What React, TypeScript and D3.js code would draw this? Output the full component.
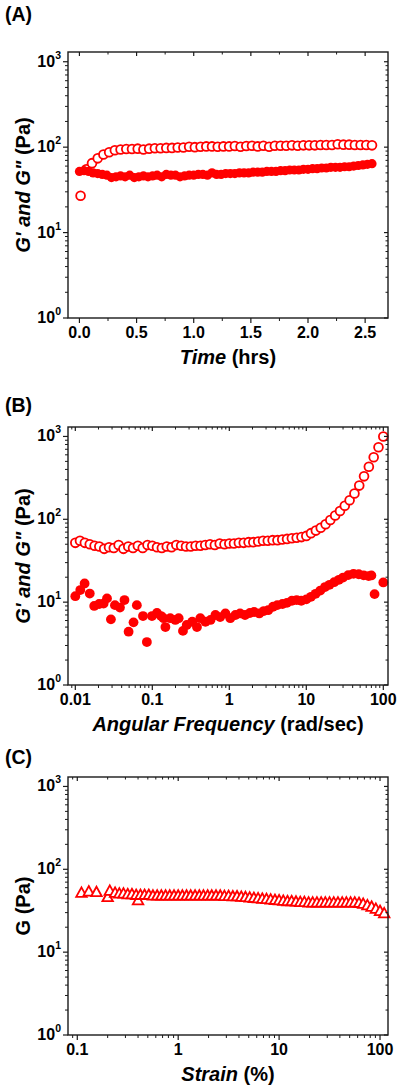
import React from 'react';
import * as d3 from 'd3';

const RED = '#ff0000';
const INK = '#1a1a1a';
const FONT = "'Liberation Sans', Arial, Helvetica, sans-serif";

// ---------- Panel A : time sweep ----------
const timeOpenA = [0.01, 0.06, 0.11, 0.16, 0.21, 0.26, 0.31, 0.36, 0.41, 0.46, 0.51, 0.56, 0.61, 0.66, 0.71, 0.76, 0.81, 0.86, 0.91, 0.96, 1.01, 1.06, 1.11, 1.16, 1.21, 1.26, 1.31, 1.36, 1.41, 1.46, 1.51, 1.56, 1.61, 1.66, 1.71, 1.76, 1.81, 1.86, 1.91, 1.96, 2.01, 2.06, 2.11, 2.16, 2.21, 2.26, 2.31, 2.36, 2.41, 2.46, 2.51, 2.56];
const gOpenA = [27, 55, 65, 74, 82, 87, 92, 94, 95, 95, 96, 94, 96, 97, 97, 98, 98, 99, 99, 101, 100, 101, 102, 102, 101, 102, 102, 103, 101, 103, 104, 102, 104, 101, 104, 104, 104, 105, 104, 105, 105, 105, 106, 106, 106, 108, 107, 107, 106, 106, 106, 105];
const timeFilledA = [0, 0.04, 0.08, 0.12, 0.16, 0.2, 0.24, 0.28, 0.32, 0.36, 0.4, 0.44, 0.48, 0.52, 0.56, 0.6, 0.64, 0.68, 0.72, 0.76, 0.8, 0.84, 0.88, 0.92, 0.96, 1.0, 1.04, 1.08, 1.12, 1.16, 1.2, 1.24, 1.28, 1.32, 1.36, 1.4, 1.44, 1.48, 1.52, 1.56, 1.6, 1.64, 1.68, 1.72, 1.76, 1.8, 1.84, 1.88, 1.92, 1.96, 2.0, 2.04, 2.08, 2.12, 2.16, 2.2, 2.24, 2.28, 2.32, 2.36, 2.4, 2.44, 2.48, 2.52, 2.56];
const gFilledA = [52, 53, 52, 50, 49, 48, 47, 44, 45, 46, 45, 47, 44, 45, 46, 45, 46, 47, 45, 48, 47, 47, 45, 46, 47, 47, 48, 48, 47, 50, 48, 48, 49, 49, 49, 50, 50, 50, 51, 51, 51, 52, 52, 52, 53, 53, 54, 54, 54, 55, 55, 56, 56, 57, 57, 58, 58, 58, 59, 59, 60, 61, 62, 63, 64];
const timeTicks = [0, 0.5, 1, 1.5, 2, 2.5];
const timeTickLabels = ['0.0', '0.5', '1.0', '1.5', '2.0', '2.5'];
const timeMinor = [0.25, 0.75, 1.25, 1.75, 2.25];

// ---------- Panel B : frequency sweep ----------
const freqOpenB = [0.01, 0.0115, 0.0133, 0.0154, 0.0178, 0.0205, 0.0237, 0.0274, 0.0316, 0.0365, 0.0422, 0.0487, 0.0562, 0.0649, 0.075, 0.0866, 0.1, 0.115, 0.133, 0.154, 0.178, 0.205, 0.237, 0.274, 0.316, 0.365, 0.422, 0.487, 0.562, 0.649, 0.75, 0.866, 1, 1.15, 1.33, 1.54, 1.78, 2.05, 2.37, 2.74, 3.16, 3.65, 4.22, 4.87, 5.62, 6.49, 7.5, 8.66, 10, 11.5, 13.3, 15.4, 17.8, 20.5, 23.7, 27.4, 31.6, 36.5, 42.2, 48.7, 56.2, 64.9, 75, 86.6, 100];
const gOpenB = [52, 55, 52, 50, 48, 47, 44, 46, 45, 49, 44, 47, 45, 48, 45, 49, 48, 46, 45, 47, 46, 49, 48, 47, 47, 48, 48, 49, 50, 49, 51, 50, 51, 51, 52, 52, 53, 53, 54, 55, 55, 56, 56, 57, 58, 59, 60, 61, 63, 68, 73, 79, 87, 98, 111, 126, 146, 170, 205, 255, 330, 430, 560, 740, 1000];
const freqFilledB = [0.01, 0.0116, 0.0132, 0.0154, 0.0176, 0.0204, 0.0233, 0.0258, 0.029, 0.0327, 0.038, 0.0435, 0.0492, 0.057, 0.063, 0.0757, 0.085, 0.099, 0.115, 0.13, 0.14, 0.148, 0.171, 0.199, 0.22, 0.25, 0.28, 0.33, 0.38, 0.42, 0.49, 0.57, 0.66, 0.76, 0.89, 1.03, 1.2, 1.38, 1.6, 1.85, 2.1, 2.45, 2.8, 3.2, 3.7, 4.2, 4.9, 5.6, 6.5, 7.5, 8.6, 10, 11.5, 13.2, 15.2, 17.5, 20, 23, 26.5, 30, 35, 41, 48, 55.6, 64.5, 70, 77, 100];
const gFilledB = [11.8, 14, 16.8, 12.7, 9.0, 9.5, 9.6, 11.1, 6.2, 9.2, 8.6, 10.6, 4.4, 5.7, 9.2, 6.8, 3.3, 6.8, 7.4, 6.8, 6.4, 5.0, 6.4, 6.1, 6.4, 4.5, 5.3, 5.8, 5.0, 6.4, 5.8, 6.1, 7.0, 6.6, 7.3, 6.4, 7.0, 7.3, 7.0, 7.4, 7.6, 7.3, 7.8, 8.0, 8.8, 9.2, 9.5, 9.8, 10.4, 10.6, 10.4, 10.8, 11.6, 12.6, 13.8, 15.2, 16.2, 17.4, 18.6, 19.8, 21.2, 22, 21.7, 21.1, 20.6, 21, 12.5, 17.3];
const freqTicks = [0.01, 0.1, 1, 10, 100];
const freqTickLabels = ['0.01', '0.1', '1', '10', '100'];

// ---------- Panel C : strain sweep ----------
const strainC = [0.11, 0.13, 0.155, 0.2, 0.21, 0.237, 0.261, 0.287, 0.316, 0.348, 0.383, 0.4, 0.422, 0.464, 0.511, 0.562, 0.619, 0.681, 0.75, 0.825, 0.909, 1.0, 1.1, 1.21, 1.33, 1.47, 1.62, 1.78, 1.96, 2.15, 2.37, 2.61, 2.87, 3.16, 3.48, 3.83, 4.22, 4.64, 5.11, 5.62, 6.19, 6.81, 7.5, 8.25, 9.09, 10, 11, 12.1, 13.3, 14.7, 16.2, 17.8, 19.6, 21.5, 23.7, 26.1, 28.7, 31.6, 34.8, 38.3, 42.2, 46.4, 51.1, 56.2, 61.9, 68.1, 75, 82.5, 90.9, 100, 110];
const gStrainC = [53, 55, 54, 47, 56, 53, 52, 52, 51, 51, 50, 43, 50, 50, 50, 49, 49, 49, 49, 49, 49, 49, 49, 49, 49, 49, 49, 49, 49, 49, 49, 49, 48.5, 48.5, 48, 48, 47.5, 47, 46.5, 46, 45.5, 45, 44.5, 44, 43.5, 43, 42.5, 42, 42, 41.5, 41, 41, 40.5, 40.5, 40.5, 40.5, 40.5, 40.5, 40.5, 40.5, 40.5, 40.5, 40.5, 40.5, 40, 39, 37.5, 36, 34, 32, 30];
const strainTicks = [0.1, 1, 10, 100];
const strainTickLabels = ['0.1', '1', '10', '100'];

// ---------- shared y axis ----------
const yTicks = [1, 10, 100, 1000];
const yExponents = ['0', '1', '2', '3'];
const Y_MAX = Math.pow(10, 3.114);

const L = 68;
const R = 388;

function makeY(top: number, bottom: number) {
  return d3.scaleLog().domain([1, Y_MAX]).range([bottom, top]);
}

function logMinor(scale: any, majors: number[]) {
  return scale.ticks().filter((t: number) => !majors.some((m) => Math.abs(m - t) / m < 1e-6));
}

type PanelProps = {
  top: number;
  bottom: number;
  x: any;
  y: any;
  xMajor: number[];
  xLabels: string[];
  xMinor: number[];
  letter: string;
  letterY: number;
  yTitle: React.ReactNode;
  xTitle: React.ReactNode;
  children?: React.ReactNode;
};

function Panel({ top, bottom, x, y, xMajor, xLabels, xMinor, letter, letterY, yTitle, xTitle, children }: PanelProps) {
  const yMinor = logMinor(y, yTicks);
  const midY = (top + bottom) / 2;
  const midX = (L + R) / 2;
  return (
    <g fontFamily={FONT} fontWeight="bold" fill="#000">
      <text x={5} y={letterY} fontSize={19.5}>{letter}</text>
      {children}
      <rect x={L} y={top} width={R - L} height={bottom - top} fill="none" stroke={INK} strokeWidth={1.4} />
      {yTicks.map((v) => (
        <g key={'ym' + v}>
          <line x1={L - 5} x2={L} y1={y(v)} y2={y(v)} stroke={INK} strokeWidth={1.2} />
          <line x1={R - 4} x2={R} y1={y(v)} y2={y(v)} stroke={INK} strokeWidth={1.2} />
        </g>
      ))}
      {yMinor.map((v: number) => (
        <g key={'yn' + v}>
          <line x1={L - 3} x2={L} y1={y(v)} y2={y(v)} stroke={INK} strokeWidth={1} />
          <line x1={R - 2.5} x2={R} y1={y(v)} y2={y(v)} stroke={INK} strokeWidth={1} />
        </g>
      ))}
      {yTicks.map((v, i) => (
        <text key={'yl' + v} x={61} y={y(v) + 5} fontSize={16} textAnchor="end">
          10<tspan dy={-8} fontSize={10.5}>{yExponents[i]}</tspan>
        </text>
      ))}
      {xMajor.map((v) => (
        <g key={'xm' + v}>
          <line x1={x(v)} x2={x(v)} y1={bottom} y2={bottom + 5} stroke={INK} strokeWidth={1.2} />
          <line x1={x(v)} x2={x(v)} y1={top} y2={top + 4} stroke={INK} strokeWidth={1.2} />
        </g>
      ))}
      {xMinor.map((v) => (
        <g key={'xn' + v}>
          <line x1={x(v)} x2={x(v)} y1={bottom} y2={bottom + 3} stroke={INK} strokeWidth={1} />
          <line x1={x(v)} x2={x(v)} y1={top} y2={top + 2.5} stroke={INK} strokeWidth={1} />
        </g>
      ))}
      {xMajor.map((v, i) => (
        <text key={'xl' + v} x={x(v)} y={bottom + 19.5} fontSize={16} textAnchor="middle">
          {xLabels[i]}
        </text>
      ))}
      <text x={midX} y={bottom + 46} fontSize={20} textAnchor="middle" style={{ whiteSpace: 'pre' }}>
        {xTitle}
      </text>
      <text transform={`translate(30,${midY}) rotate(-90)`} fontSize={20} textAnchor="middle" style={{ whiteSpace: 'pre' }}>
        {yTitle}
      </text>
    </g>
  );
}

function OpenCircle({ cx, cy }: { cx: number; cy: number }) {
  return <circle cx={cx} cy={cy} r={4.4} fill="#fff" stroke={RED} strokeWidth={1.8} />;
}
function FilledCircle({ cx, cy, r = 4.6 }: { cx: number; cy: number; r?: number }) {
  return <circle cx={cx} cy={cy} r={r} fill={RED} />;
}
function Triangle({ cx, cy }: { cx: number; cy: number }) {
  const w = 10.5;
  const h = 9.5;
  const d = `M${cx},${cy - h / 2}L${cx + w / 2},${cy + h / 2}L${cx - w / 2},${cy + h / 2}Z`;
  return <path d={d} fill="#fff" stroke={RED} strokeWidth={1.8} strokeLinejoin="miter" />;
}

export default function App() {
  const topA = 52, botA = 318;
  const xA = d3.scaleLinear().domain([-0.1, 2.7]).range([L, R]);
  const yA = makeY(topA, botA);
  const topB = 427, botB = 685;
  const xB = d3.scaleLog().domain([Math.pow(10, -2.095), Math.pow(10, 2.061)]).range([L, R]);
  const yB = makeY(topB, botB);
  const topC = 777, botC = 1035;
  const xC = d3.scaleLog().domain([Math.pow(10, -1.092), Math.pow(10, 2.079)]).range([L, R]);
  const yC = makeY(topC, botC);

  const gTitle = (
    <>
      <tspan fontStyle="italic">G' and G"</tspan>
      <tspan> (Pa)</tspan>
    </>
  );

  return (
    <svg width={400} height={1089} style={{ position: 'absolute', left: 0, top: 0, background: '#fff' }}>
      <rect x={0} y={0} width={400} height={1089} fill="#fff" />
      <Panel
        top={topA}
        bottom={botA}
        x={xA}
        y={yA}
        xMajor={timeTicks}
        xLabels={timeTickLabels}
        xMinor={timeMinor}
        letter="(A)"
        letterY={21}
        yTitle={gTitle}
        xTitle={
          <>
            <tspan fontStyle="italic">Time</tspan>
            <tspan> (hrs)</tspan>
          </>
        }
      >
        {timeOpenA.map((t, i) => (
          <OpenCircle key={'ao' + i} cx={xA(t)} cy={yA(gOpenA[i])} />
        ))}
        {timeFilledA.map((t, i) => (
          <FilledCircle key={'af' + i} cx={xA(t)} cy={yA(gFilledA[i])} r={4.6} />
        ))}
      </Panel>
      <Panel
        top={topB}
        bottom={botB}
        x={xB}
        y={yB}
        xMajor={freqTicks}
        xLabels={freqTickLabels}
        xMinor={logMinor(xB, freqTicks)}
        letter="(B)"
        letterY={412}
        yTitle={gTitle}
        xTitle={
          <>
            <tspan fontStyle="italic">Angular Frequency</tspan>
            <tspan> (rad/sec)</tspan>
          </>
        }
      >
        {freqOpenB.map((f, i) => (
          <OpenCircle key={'bo' + i} cx={xB(f)} cy={yB(gOpenB[i])} />
        ))}
        {freqFilledB.map((f, i) => (
          <FilledCircle key={'bf' + i} cx={xB(f)} cy={yB(gFilledB[i])} r={4.9} />
        ))}
      </Panel>
      <Panel
        top={topC}
        bottom={botC}
        x={xC}
        y={yC}
        xMajor={strainTicks}
        xLabels={strainTickLabels}
        xMinor={logMinor(xC, strainTicks)}
        letter="(C)"
        letterY={764}
        yTitle={<tspan>G (Pa)</tspan>}
        xTitle={
          <>
            <tspan fontStyle="italic">Strain</tspan>
            <tspan> (%)</tspan>
          </>
        }
      >
        {strainC.map((s, i) => (
          <Triangle key={'c' + i} cx={xC(s)} cy={yC(gStrainC[i])} />
        ))}
      </Panel>
    </svg>
  );
}
